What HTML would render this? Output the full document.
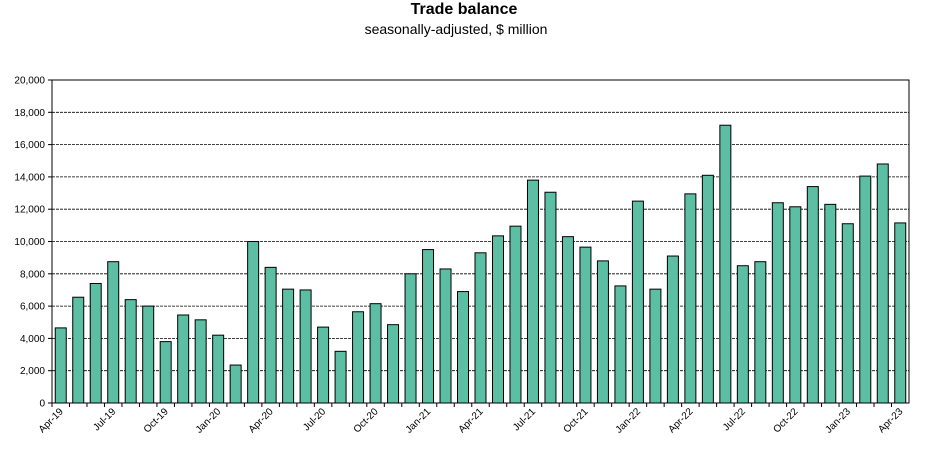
<!DOCTYPE html>
<html><head><meta charset="utf-8"><style>
body{margin:0;background:#fff;}
svg{display:block;font-family:"Liberation Sans",sans-serif;}
</style></head><body>
<svg id="chart" width="929" height="455" viewBox="0 0 929 455">
<text x="464" y="14" text-anchor="middle" font-size="16" font-weight="bold">Trade balance</text>
<text x="456" y="34" text-anchor="middle" font-size="14">seasonally-adjusted, $ million</text>
<g id="grid"></g><g id="bars"></g><g id="axes"></g>
</svg>
<script>
const categories=["Apr-19","May-19","Jun-19","Jul-19","Aug-19","Sep-19","Oct-19","Nov-19","Dec-19","Jan-20","Feb-20","Mar-20","Apr-20","May-20","Jun-20","Jul-20","Aug-20","Sep-20","Oct-20","Nov-20","Dec-20","Jan-21","Feb-21","Mar-21","Apr-21","May-21","Jun-21","Jul-21","Aug-21","Sep-21","Oct-21","Nov-21","Dec-21","Jan-22","Feb-22","Mar-22","Apr-22","May-22","Jun-22","Jul-22","Aug-22","Sep-22","Oct-22","Nov-22","Dec-22","Jan-23","Feb-23","Mar-23","Apr-23"];
const values=[4650,6550,7400,8750,6400,6000,3800,5450,5150,4200,2350,10000,8400,7050,7000,4700,3200,5650,6150,4850,8000,9500,8300,6900,9300,10350,10950,13800,13050,10300,9650,8800,7250,12500,7050,9100,12950,14100,17200,8500,8750,12400,12150,13400,12300,11100,14050,14800,11150];
const yTicks=[0,2000,4000,6000,8000,10000,12000,14000,16000,18000,20000];
const NS="http://www.w3.org/2000/svg";
const L=52,R=909,T=80,B=403,yMax=20000;
const slot=(R-L)/categories.length;
const y=v=>B-(v/yMax)*(B-T);
const xc=i=>L+slot*(i+0.5);
function mk(tag,attrs,parent){const e=document.createElementNS(NS,tag);for(const k in attrs)e.setAttribute(k,attrs[k]);parent.appendChild(e);return e;}
const grid=document.getElementById('grid'),bars=document.getElementById('bars'),axes=document.getElementById('axes');
yTicks.forEach(t=>{
  if(t>0){const g=mk('line',{x1:L,x2:R,y1:y(t),y2:y(t),stroke:'#000','stroke-width':0.8,'stroke-dasharray':'3,1'},grid);
  
  }
  const tk=mk('line',{x1:L-4,x2:L,y1:y(t),y2:y(t),stroke:'#000'},axes);
  
  
  const lb=mk('text',{x:L-7,y:y(t)+3.5,'text-anchor':'end','font-size':10},axes);
  lb.textContent=t.toLocaleString('en-US');
  
  
});
values.forEach((v,i)=>{
  const w=11;
  const r=mk('rect',{x:xc(i)-w/2,y:y(v),width:w,height:B-y(v),fill:'#5cbfa4',stroke:'#000','stroke-width':1},bars);
  
  
});
const frame=mk('rect',{x:L,y:T,width:R-L,height:B-T,fill:'none',stroke:'#000','stroke-width':1},axes);


categories.forEach((c,i)=>{
  const tk=mk('line',{x1:L+slot*i,x2:L+slot*i,y1:B,y2:B+4,stroke:'#000'},axes);
  
  
  if(i%3===0){
    const lx=xc(i)+3,ly=B+9;
    const t=mk('text',{x:lx,y:ly,'text-anchor':'end','font-size':10,transform:`rotate(-45 ${lx} ${ly})`},axes);
    t.textContent=c;
    
    
  }
});
</script>
</body></html>
